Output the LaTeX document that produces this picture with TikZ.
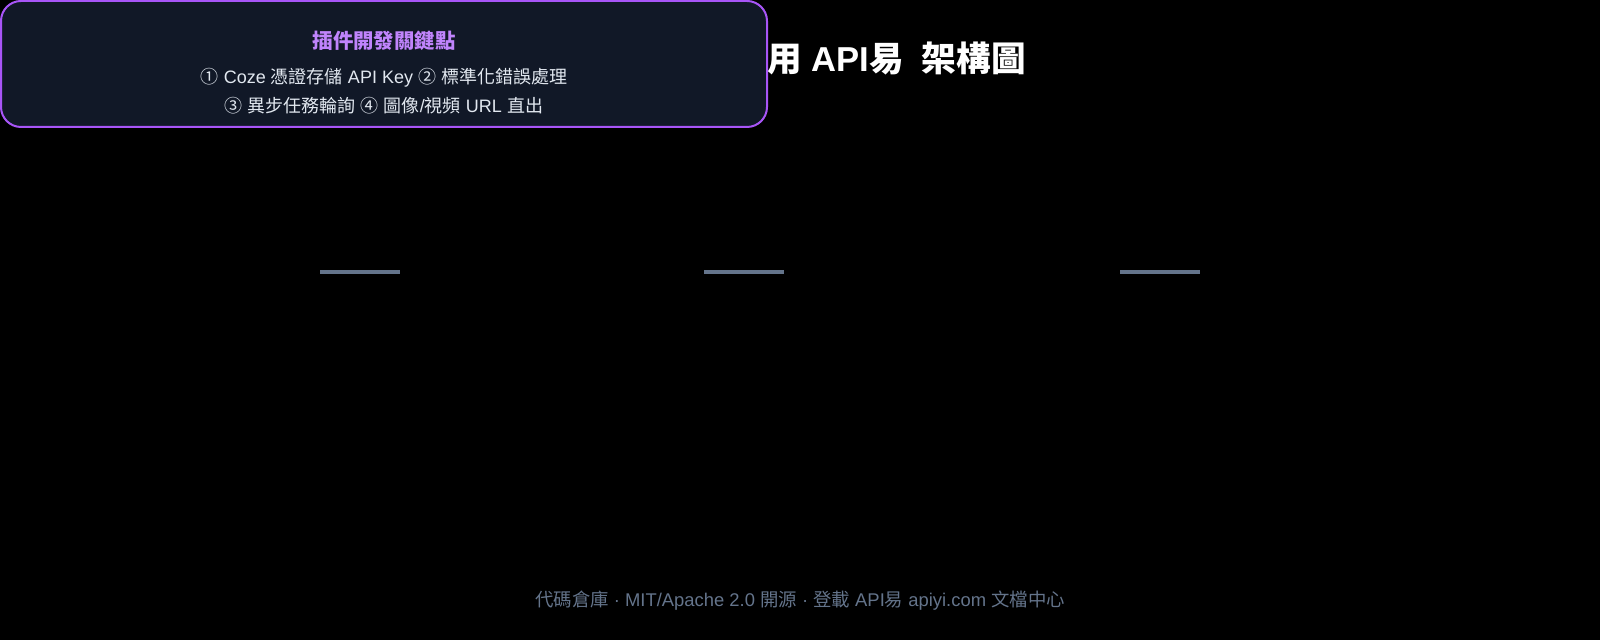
\documentclass[tikz,border=0pt]{standalone}
\usepackage{fontspec}
\setmainfont{Noto Sans CJK TC}
\newfontfamily\latinfont{Liberation Sans}
\newcommand{\en}[1]{{\latinfont #1}}
\definecolor{bg}{HTML}{000000}
\definecolor{panel}{HTML}{111827}
\definecolor{violet}{HTML}{A855F7}
\definecolor{lilac}{HTML}{C084FC}
\definecolor{slate}{HTML}{64748B}
\definecolor{mist}{HTML}{E2E8F0}

\begin{document}
\begin{tikzpicture}[x=0.5pt,y=-0.5pt]
            \tikzstyle{every node}+=[inner sep=0pt]
            \tikzstyle{gap}=[draw=slate, line width=1.6pt]
            \tikzstyle{note}=[text=mist, font=\fontsize{9}{11}\selectfont]
            \fill [bg] (0,0) rectangle (1600,640);
            \node [anchor=east] (title) at (1026,58) {\color{white}\fontsize{17.3}{20}\selectfont\bfseries Coze 插件調用\en{ API}易\en{ }\hspace{4pt}架構圖};
            \draw [violet, fill=panel, line width=1pt, rounded corners=10pt] (1,1) rectangle (767,127);
            \node (keys) at (384,41) {\color{lilac}\fontsize{10.2}{12}\selectfont\bfseries 插件開發關鍵點};
            \node [note] (keyA) at (384,77.5) {①\en{ Coze }憑證存儲\en{ API Key }②\en{ }標準化錯誤處理};
            \node [note] (keyB) at (384,106) {③\en{ }異步任務輪詢\en{ }④\en{ }圖像\en{/}視頻\en{ URL }直出};
            \coordinate (a1) at (320,272);
            \coordinate (a2) at (400,272);
            \coordinate (b1) at (704,272);
            \coordinate (b2) at (784,272);
            \coordinate (c1) at (1120,272);
            \coordinate (c2) at (1200,272);
            \draw [gap] (a1) -- (a2);
            \draw [gap] (b1) -- (b2);
            \draw [gap] (c1) -- (c2);
            \node (foot) at (800,600.5) {\color{slate}\fontsize{9.2}{11}\selectfont 代碼倉庫\en{ · MIT/Apache 2.0 }開源\en{ · }登載\en{ API}易\en{ apiyi.com }文檔中心};
\end{tikzpicture}
\end{document}
